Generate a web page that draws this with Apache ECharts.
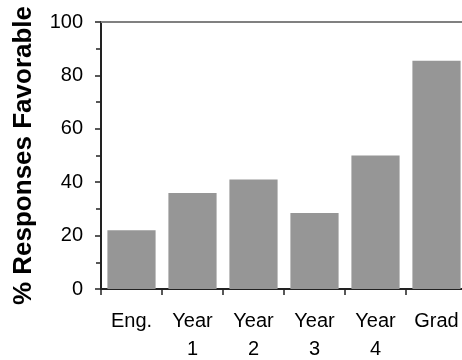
<!DOCTYPE html>
<html>
<head>
<meta charset="utf-8">
<script src="https://cdn.jsdelivr.net/npm/echarts@6/dist/echarts.min.js"></script>
<style>html,body{margin:0;padding:0;background:#fff;}#wrap{width:462px;height:360px;overflow:hidden;position:relative;}#c{position:absolute;left:0;top:0;width:467px;height:360px;}</style>
</head>
<body>
<div id="wrap"><div id="c"></div></div>
<script>
var categories = ['Eng.', 'Year\n1', 'Year\n2', 'Year\n3', 'Year\n4', 'Grad'];
var values = [22, 36, 41, 28.5, 50, 85.5];
var yTicks = [0, 20, 40, 60, 80, 100];
var yTitle = '% Responses Favorable';

var chart = echarts.init(document.getElementById('c'), null, {renderer: 'canvas'});
chart.setOption({
  animation: false,
  backgroundColor: '#ffffff',
  grid: {left: 101, top: 22, right: 0, height: 267, containLabel: false, outerBoundsMode: 'none'},
  xAxis: [{
    type: 'category',
    data: categories,
    position: 'bottom',
    axisLine: {lineStyle: {color: '#222', width: 2}},
    axisTick: {show: true, length: 6, alignWithLabel: false, lineStyle: {color: '#222', width: 1.5}},
    axisLabel: {color: '#000', fontFamily: 'Liberation Sans, Arial', fontSize: 20, lineHeight: 28, margin: 18, interval: 0}
  }, {
    type: 'category',
    data: categories,
    position: 'top',
    axisLine: {show: true, lineStyle: {color: '#808080', width: 2}},
    axisTick: {show: false},
    axisLabel: {show: false}
  }],
  yAxis: {
    type: 'value',
    min: 0, max: 100, interval: 20,
    name: yTitle,
    nameLocation: 'middle',
    nameGap: 64,
    nameTextStyle: {color: '#000', fontFamily: 'Liberation Sans, Arial', fontSize: 26, fontWeight: 'bold'},
    axisLine: {show: true, lineStyle: {color: '#222', width: 2}},
    axisTick: {show: true, length: 6, lineStyle: {color: '#222', width: 1.5}},
    minorTick: {show: true, splitNumber: 2, length: 5, lineStyle: {color: '#222', width: 1.5}},
    splitLine: {show: false},
    axisLabel: {color: '#000', fontFamily: 'Liberation Sans, Arial', fontSize: 20, margin: 18,
      formatter: function (v) { return yTicks.indexOf(v) >= 0 ? String(v) : ''; }}
  },
  series: [{
    type: 'bar',
    data: values,
    barCategoryGap: '21%',
    itemStyle: {color: '#969696'}
  }]
});
</script>
</body>
</html>
